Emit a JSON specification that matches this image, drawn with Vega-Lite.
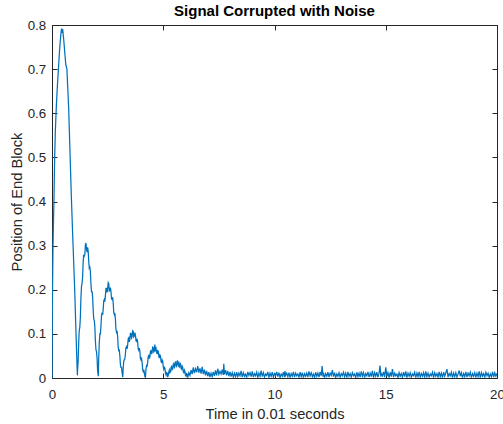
{
  "$schema": "https://vega.github.io/schema/vega-lite/v6.json",
  "width": 445,
  "height": 353,
  "autosize": {"type": "none"},
  "padding": {"left": 52, "top": 25, "right": 6, "bottom": 46},
  "background": "white",
  "title": {"text": "Signal Corrupted with Noise", "fontSize": 15, "fontWeight": "bold", "font": "Liberation Sans", "color": "#000000", "anchor": "middle", "offset": -0.5},
  "config": {
    "view": {"stroke": "#262626", "strokeWidth": 1},
    "axis": {"labelFont": "Liberation Sans", "titleFont": "Liberation Sans", "labelColor": "#262626", "titleColor": "#262626", "domainColor": "#262626", "tickColor": "#262626", "grid": false, "labelFontSize": 13.3, "titleFontSize": 14.7, "titleFontWeight": "normal"}
  },
  "data": {"values": [
    {"t":0,"y":0},{"t":0.01,"y":0.10},{"t":0.02,"y":0.18},{"t":0.04,"y":0.28},{"t":0.06,"y":0.34},{"t":0.09,"y":0.41},{"t":0.12,"y":0.50},{"t":0.15,"y":0.56},{"t":0.19,"y":0.61},{"t":0.24,"y":0.66},{"t":0.30,"y":0.71},{"t":0.35,"y":0.75},{"t":0.40,"y":0.78},{"t":0.43,"y":0.792},{"t":0.45,"y":0.782},{"t":0.48,"y":0.791},{"t":0.50,"y":0.78},{"t":0.53,"y":0.765},{"t":0.57,"y":0.74},{"t":0.62,"y":0.71},{"t":0.67,"y":0.70},{"t":0.71,"y":0.655},{"t":0.75,"y":0.61},{"t":0.81,"y":0.51},{"t":0.87,"y":0.41},{"t":0.94,"y":0.31},{"t":1.02,"y":0.20},{"t":1.08,"y":0.10},{"t":1.12,"y":0.035},{"t":1.14,"y":0.006},
    {"t":1.15,"y":0.018},{"t":1.175,"y":0.038},{"t":1.20,"y":0.081},{"t":1.225,"y":0.108},{"t":1.25,"y":0.115},{"t":1.275,"y":0.138},{"t":1.30,"y":0.182},{"t":1.325,"y":0.207},{"t":1.35,"y":0.214},{"t":1.375,"y":0.229},{"t":1.40,"y":0.262},{"t":1.425,"y":0.279},{"t":1.45,"y":0.276},{"t":1.475,"y":0.279},{"t":1.50,"y":0.301},{"t":1.525,"y":0.306},{"t":1.55,"y":0.293},{"t":1.575,"y":0.285},{"t":1.60,"y":0.296},{"t":1.625,"y":0.288},{"t":1.65,"y":0.265},{"t":1.675,"y":0.249},{"t":1.70,"y":0.251},{"t":1.725,"y":0.241},{"t":1.75,"y":0.214},{"t":1.775,"y":0.196},{"t":1.80,"y":0.196},{"t":1.825,"y":0.184},{"t":1.85,"y":0.155},{"t":1.875,"y":0.134},{"t":1.90,"y":0.131},{"t":1.925,"y":0.117},{"t":1.95,"y":0.085},{"t":1.975,"y":0.064},{"t":2.00,"y":0.06},{"t":2.025,"y":0.045},{"t":2.05,"y":0.017},{"t":2.08,"y":0.004},
    {"t":2.10,"y":0.045},{"t":2.125,"y":0.08},{"t":2.15,"y":0.10},{"t":2.175,"y":0.10},{"t":2.20,"y":0.118},{"t":2.225,"y":0.141},{"t":2.25,"y":0.148},{"t":2.275,"y":0.143},{"t":2.30,"y":0.155},{"t":2.325,"y":0.175},{"t":2.35,"y":0.178},{"t":2.375,"y":0.173},{"t":2.40,"y":0.186},{"t":2.425,"y":0.203},{"t":2.45,"y":0.203},{"t":2.475,"y":0.194},{"t":2.50,"y":0.201},{"t":2.525,"y":0.216},{"t":2.55,"y":0.214},{"t":2.575,"y":0.197},{"t":2.60,"y":0.198},{"t":2.625,"y":0.205},{"t":2.65,"y":0.196},{"t":2.675,"y":0.179},{"t":2.70,"y":0.178},{"t":2.725,"y":0.183},{"t":2.75,"y":0.171},{"t":2.775,"y":0.149},{"t":2.80,"y":0.144},{"t":2.825,"y":0.147},{"t":2.85,"y":0.133},{"t":2.875,"y":0.11},{"t":2.90,"y":0.104},{"t":2.925,"y":0.107},{"t":2.95,"y":0.094},{"t":2.975,"y":0.07},{"t":3.00,"y":0.062},{"t":3.025,"y":0.063},{"t":3.05,"y":0.05},{"t":3.075,"y":0.03},{"t":3.10,"y":0.024},{"t":3.125,"y":0.024},{"t":3.15,"y":0.012},{"t":3.18,"y":0.002},
    {"t":3.20,"y":0.022},{"t":3.225,"y":0.038},{"t":3.25,"y":0.042},{"t":3.275,"y":0.043},{"t":3.30,"y":0.055},{"t":3.325,"y":0.069},{"t":3.35,"y":0.071},{"t":3.375,"y":0.066},{"t":3.40,"y":0.074},{"t":3.425,"y":0.089},{"t":3.45,"y":0.091},{"t":3.475,"y":0.082},{"t":3.50,"y":0.088},{"t":3.525,"y":0.101},{"t":3.55,"y":0.101},{"t":3.575,"y":0.091},{"t":3.60,"y":0.094},{"t":3.625,"y":0.107},{"t":3.65,"y":0.106},{"t":3.675,"y":0.093},{"t":3.70,"y":0.095},{"t":3.725,"y":0.103},{"t":3.75,"y":0.097},{"t":3.775,"y":0.084},{"t":3.80,"y":0.083},{"t":3.825,"y":0.089},{"t":3.85,"y":0.081},{"t":3.875,"y":0.066},{"t":3.90,"y":0.063},{"t":3.925,"y":0.068},{"t":3.95,"y":0.06},{"t":3.975,"y":0.044},{"t":4.00,"y":0.041},{"t":4.025,"y":0.044},{"t":4.05,"y":0.035},{"t":4.075,"y":0.019},{"t":4.10,"y":0.015},{"t":4.125,"y":0.019},{"t":4.15,"y":0.012},{"t":4.175,"y":0.003},{"t":4.20,"y":0.002},
    {"t":4.225,"y":0.02},{"t":4.25,"y":0.028},{"t":4.275,"y":0.027},{"t":4.30,"y":0.036},{"t":4.325,"y":0.049},{"t":4.35,"y":0.051},{"t":4.375,"y":0.044},{"t":4.40,"y":0.048},{"t":4.425,"y":0.061},{"t":4.45,"y":0.062},{"t":4.475,"y":0.054},{"t":4.50,"y":0.058},{"t":4.525,"y":0.07},{"t":4.55,"y":0.069},{"t":4.575,"y":0.059},{"t":4.60,"y":0.061},{"t":4.62,"y":0.076},{"t":4.65,"y":0.064},{"t":4.675,"y":0.067},{"t":4.70,"y":0.058},{"t":4.725,"y":0.054},{"t":4.75,"y":0.062},{"t":4.775,"y":0.061},{"t":4.80,"y":0.049},{"t":4.825,"y":0.045},{"t":4.85,"y":0.052},{"t":4.875,"y":0.05},{"t":4.90,"y":0.038},{"t":4.925,"y":0.034},{"t":4.95,"y":0.041},{"t":4.975,"y":0.038},{"t":5.00,"y":0.026},{"t":5.025,"y":0.02},{"t":5.05,"y":0.024},{"t":5.075,"y":0.022},{"t":5.10,"y":0.011},{"t":5.125,"y":0.007},{"t":5.15,"y":0.012},{"t":5.175,"y":0.011},{"t":5.20,"y":0.002},
    {"t":5.225,"y":0.006},{"t":5.25,"y":0.014},{"t":5.275,"y":0.018},{"t":5.30,"y":0.012},{"t":5.325,"y":0.014},{"t":5.35,"y":0.024},{"t":5.375,"y":0.026},{"t":5.40,"y":0.019},{"t":5.425,"y":0.021},{"t":5.45,"y":0.031},{"t":5.475,"y":0.033},{"t":5.50,"y":0.024},{"t":5.525,"y":0.026},{"t":5.55,"y":0.036},{"t":5.575,"y":0.037},{"t":5.60,"y":0.027},{"t":5.625,"y":0.029},{"t":5.65,"y":0.038},{"t":5.675,"y":0.036},{"t":5.70,"y":0.026},{"t":5.725,"y":0.025},{"t":5.75,"y":0.034},{"t":5.775,"y":0.032},{"t":5.80,"y":0.022},{"t":5.825,"y":0.02},{"t":5.85,"y":0.027},{"t":5.875,"y":0.024},{"t":5.90,"y":0.014},{"t":5.925,"y":0.012},{"t":5.95,"y":0.018},{"t":5.975,"y":0.015},{"t":6.00,"y":0.006},{"t":6.025,"y":0.004},{"t":6.05,"y":0.01},{"t":6.075,"y":0.009},{"t":6.10,"y":0.001},
    {"t":6.15,"y":0.012},{"t":6.20,"y":0.006},{"t":6.25,"y":0.018},{"t":6.30,"y":0.009},{"t":6.35,"y":0.024},{"t":6.40,"y":0.011},{"t":6.45,"y":0.021},{"t":6.50,"y":0.013},{"t":6.55,"y":0.027},{"t":6.60,"y":0.012},{"t":6.65,"y":0.022},{"t":6.70,"y":0.01},{"t":6.75,"y":0.025},{"t":6.80,"y":0.009},{"t":6.85,"y":0.019},{"t":6.90,"y":0.006},{"t":6.95,"y":0.016},{"t":7.00,"y":0.004},{"t":7.05,"y":0.013},{"t":7.10,"y":0.002},{"t":7.15,"y":0.011},{"t":7.20,"y":0.003},
    {"t":7.25,"y":0.014},{"t":7.30,"y":0.005},{"t":7.35,"y":0.017},{"t":7.40,"y":0.006},{"t":7.45,"y":0.021},{"t":7.50,"y":0.008},{"t":7.55,"y":0.015},{"t":7.60,"y":0.009},{"t":7.65,"y":0.019},{"t":7.70,"y":0.007},{"t":7.72,"y":0.032},{"t":7.75,"y":0.008},{"t":7.80,"y":0.018},{"t":7.85,"y":0.006},{"t":7.90,"y":0.016},{"t":7.95,"y":0.004},{"t":8.00,"y":0.014},{"t":8.05,"y":0.003},{"t":8.10,"y":0.012},{"t":8.15,"y":0.002},{"t":8.20,"y":0.011},{"t":8.25,"y":0.003},
    {"t":8.30,"y":0.013},{"t":8.35,"y":0.003},{"t":8.40,"y":0.011},{"t":8.45,"y":0.005},{"t":8.50,"y":0.016},{"t":8.55,"y":0.002},{"t":8.60,"y":0.012},{"t":8.65,"y":0.004},{"t":8.70,"y":0.009},{"t":8.75,"y":0.001},{"t":8.80,"y":0.014},{"t":8.85,"y":0.006},{"t":8.90,"y":0.012},{"t":8.95,"y":0.003},{"t":9.00,"y":0.015},{"t":9.05,"y":0.002},{"t":9.10,"y":0.010},{"t":9.15,"y":0.005},{"t":9.20,"y":0.013},{"t":9.25,"y":0.001},{"t":9.30,"y":0.011},{"t":9.35,"y":0.004},{"t":9.40,"y":0.017},{"t":9.45,"y":0.003},{"t":9.50,"y":0.012},{"t":9.55,"y":0.002},{"t":9.60,"y":0.009},{"t":9.65,"y":0.006},{"t":9.70,"y":0.014},{"t":9.75,"y":0.001},{"t":9.80,"y":0.011},{"t":9.85,"y":0.004},{"t":9.90,"y":0.013},{"t":9.95,"y":0.002},
    {"t":10.00,"y":0.010},{"t":10.05,"y":0.005},{"t":10.10,"y":0.014},{"t":10.15,"y":0.003},{"t":10.20,"y":0.012},{"t":10.25,"y":0.001},{"t":10.30,"y":0.009},{"t":10.35,"y":0.004},{"t":10.40,"y":0.013},{"t":10.45,"y":0.002},{"t":10.47,"y":0.016},{"t":10.50,"y":0.006},{"t":10.55,"y":0.011},{"t":10.60,"y":0.003},{"t":10.65,"y":0.012},{"t":10.70,"y":0.001},{"t":10.75,"y":0.010},{"t":10.80,"y":0.004},{"t":10.85,"y":0.014},{"t":10.90,"y":0.002},{"t":10.95,"y":0.011},
    {"t":11.00,"y":0.005},{"t":11.05,"y":0.009},{"t":11.10,"y":0.002},{"t":11.15,"y":0.013},{"t":11.20,"y":0.003},{"t":11.25,"y":0.012},{"t":11.30,"y":0.001},{"t":11.35,"y":0.010},{"t":11.40,"y":0.004},{"t":11.45,"y":0.011},{"t":11.50,"y":0.002},{"t":11.55,"y":0.015},{"t":11.60,"y":0.005},{"t":11.65,"y":0.012},{"t":11.70,"y":0.003},{"t":11.75,"y":0.009},{"t":11.80,"y":0.001},{"t":11.85,"y":0.013},{"t":11.90,"y":0.004},{"t":11.95,"y":0.011},
    {"t":12.00,"y":0.002},{"t":12.05,"y":0.014},{"t":12.10,"y":0.005},{"t":12.14,"y":0.027},{"t":12.18,"y":0.003},{"t":12.20,"y":0.012},{"t":12.25,"y":0.001},{"t":12.30,"y":0.010},{"t":12.35,"y":0.004},{"t":12.40,"y":0.013},{"t":12.45,"y":0.002},{"t":12.50,"y":0.011},{"t":12.55,"y":0.006},{"t":12.60,"y":0.018},{"t":12.65,"y":0.003},{"t":12.70,"y":0.012},{"t":12.75,"y":0.001},{"t":12.80,"y":0.009},{"t":12.85,"y":0.004},{"t":12.90,"y":0.012},{"t":12.95,"y":0.002},
    {"t":13.00,"y":0.010},{"t":13.05,"y":0.005},{"t":13.10,"y":0.013},{"t":13.15,"y":0.003},{"t":13.20,"y":0.011},{"t":13.25,"y":0.001},{"t":13.30,"y":0.014},{"t":13.35,"y":0.004},{"t":13.40,"y":0.010},{"t":13.45,"y":0.002},{"t":13.50,"y":0.012},{"t":13.55,"y":0.005},{"t":13.60,"y":0.009},{"t":13.65,"y":0.001},{"t":13.70,"y":0.013},{"t":13.75,"y":0.003},{"t":13.80,"y":0.011},{"t":13.85,"y":0.002},{"t":13.90,"y":0.015},{"t":13.95,"y":0.004},
    {"t":14.00,"y":0.012},{"t":14.05,"y":0.001},{"t":14.10,"y":0.010},{"t":14.15,"y":0.005},{"t":14.20,"y":0.014},{"t":14.25,"y":0.002},{"t":14.30,"y":0.011},{"t":14.35,"y":0.003},{"t":14.40,"y":0.016},{"t":14.45,"y":0.001},{"t":14.50,"y":0.012},{"t":14.55,"y":0.004},{"t":14.60,"y":0.013},{"t":14.65,"y":0.002},{"t":14.70,"y":0.011},{"t":14.74,"y":0.028},{"t":14.78,"y":0.003},{"t":14.80,"y":0.010},{"t":14.85,"y":0.005},{"t":14.90,"y":0.014},{"t":14.95,"y":0.002},
    {"t":15.00,"y":0.024},{"t":15.05,"y":0.004},{"t":15.10,"y":0.012},{"t":15.15,"y":0.001},{"t":15.20,"y":0.013},{"t":15.25,"y":0.003},{"t":15.30,"y":0.020},{"t":15.35,"y":0.002},{"t":15.40,"y":0.011},{"t":15.45,"y":0.005},{"t":15.50,"y":0.009},{"t":15.55,"y":0.001},{"t":15.60,"y":0.012},{"t":15.65,"y":0.004},{"t":15.70,"y":0.010},{"t":15.75,"y":0.002},{"t":15.80,"y":0.013},{"t":15.85,"y":0.003},{"t":15.90,"y":0.015},{"t":15.95,"y":0.001},
    {"t":16.00,"y":0.011},{"t":16.05,"y":0.004},{"t":16.10,"y":0.012},{"t":16.15,"y":0.002},{"t":16.20,"y":0.009},{"t":16.25,"y":0.005},{"t":16.30,"y":0.013},{"t":16.35,"y":0.001},{"t":16.40,"y":0.011},{"t":16.45,"y":0.003},{"t":16.50,"y":0.014},{"t":16.55,"y":0.002},{"t":16.60,"y":0.010},{"t":16.65,"y":0.004},{"t":16.70,"y":0.012},{"t":16.75,"y":0.001},{"t":16.80,"y":0.015},{"t":16.85,"y":0.003},{"t":16.90,"y":0.011},{"t":16.95,"y":0.002},
    {"t":17.00,"y":0.009},{"t":17.05,"y":0.005},{"t":17.10,"y":0.013},{"t":17.15,"y":0.001},{"t":17.20,"y":0.012},{"t":17.25,"y":0.004},{"t":17.30,"y":0.010},{"t":17.35,"y":0.002},{"t":17.40,"y":0.014},{"t":17.45,"y":0.003},{"t":17.50,"y":0.011},{"t":17.55,"y":0.001},{"t":17.60,"y":0.013},{"t":17.65,"y":0.004},{"t":17.70,"y":0.012},{"t":17.75,"y":0.020},{"t":17.80,"y":0.002},{"t":17.85,"y":0.010},{"t":17.90,"y":0.005},{"t":17.95,"y":0.013},
    {"t":18.00,"y":0.001},{"t":18.05,"y":0.011},{"t":18.10,"y":0.003},{"t":18.15,"y":0.012},{"t":18.20,"y":0.002},{"t":18.25,"y":0.009},{"t":18.30,"y":0.017},{"t":18.35,"y":0.004},{"t":18.40,"y":0.012},{"t":18.45,"y":0.001},{"t":18.50,"y":0.010},{"t":18.55,"y":0.003},{"t":18.60,"y":0.014},{"t":18.65,"y":0.002},{"t":18.70,"y":0.011},{"t":18.75,"y":0.005},{"t":18.80,"y":0.013},{"t":18.85,"y":0.001},{"t":18.90,"y":0.010},{"t":18.95,"y":0.004},
    {"t":19.00,"y":0.012},{"t":19.05,"y":0.002},{"t":19.10,"y":0.011},{"t":19.15,"y":0.003},{"t":19.20,"y":0.015},{"t":19.25,"y":0.001},{"t":19.30,"y":0.012},{"t":19.35,"y":0.004},{"t":19.40,"y":0.010},{"t":19.45,"y":0.002},{"t":19.50,"y":0.013},{"t":19.55,"y":0.005},{"t":19.60,"y":0.011},{"t":19.65,"y":0.001},{"t":19.70,"y":0.009},{"t":19.75,"y":0.003},{"t":19.80,"y":0.014},{"t":19.85,"y":0.002},{"t":19.90,"y":0.012},{"t":19.95,"y":0.004},{"t":20.00,"y":0.010}
  ]},
  "layer": [
    {
      "mark": {"type": "line", "color": "#0072BD", "strokeWidth": 1.25, "clip": true},
      "encoding": {
        "x": {"field": "t", "type": "quantitative", "scale": {"domain": [0, 20], "nice": false},
          "axis": {"orient": "bottom", "values": [0, 5, 10, 15, 20], "tickSize": -5, "labelPadding": 14.3, "labelFlush": false, "title": "Time in 0.01 seconds", "titlePadding": 6}},
        "y": {"field": "y", "type": "quantitative", "scale": {"domain": [0, 0.8], "nice": false},
          "axis": {"orient": "left", "values": [0, 0.1, 0.2, 0.3, 0.4, 0.5, 0.6, 0.7, 0.8], "format": "~g", "tickSize": -5, "labelPadding": 11.3, "labelFlush": false, "title": "Position of End Block", "titlePadding": 3}}
      }
    },
    {
      "mark": {"type": "line", "opacity": 0},
      "encoding": {
        "x": {"field": "t", "type": "quantitative", "scale": {"domain": [0, 20], "nice": false},
          "axis": {"orient": "top", "values": [0, 5, 10, 15, 20], "tickSize": -5, "labels": false, "title": null}},
        "y": {"field": "y", "type": "quantitative", "scale": {"domain": [0, 0.8], "nice": false},
          "axis": {"orient": "right", "values": [0, 0.1, 0.2, 0.3, 0.4, 0.5, 0.6, 0.7, 0.8], "tickSize": -5, "labels": false, "title": null}}
      }
    }
  ],
  "resolve": {"axis": {"x": "independent", "y": "independent"}}
}
